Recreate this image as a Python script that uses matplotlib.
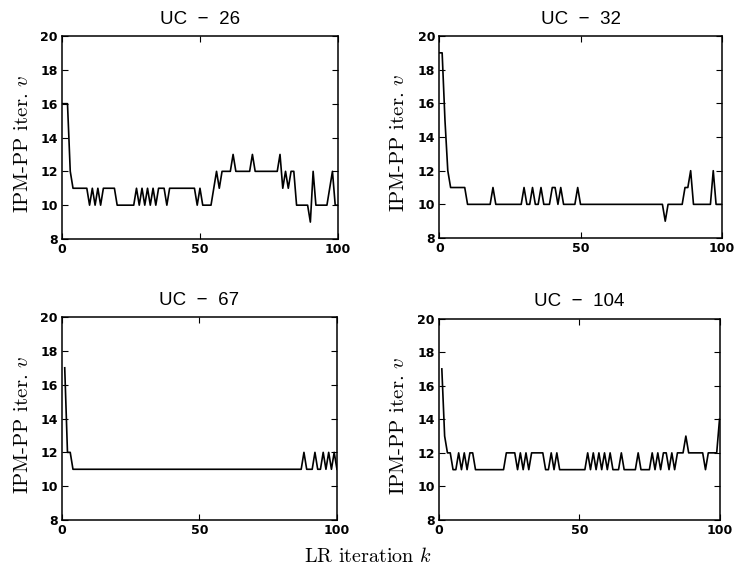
import numpy as np
import matplotlib
matplotlib.use("Agg")
import matplotlib.pyplot as plt

# IPM-PP iteration counts per LR iteration (k = 0..100), NaN = no value
k = np.arange(0, 101)

uc26 = [16, 16, 16, 12, 11, 11, 11, 11, 11, 11,
        10, 11, 10, 11, 10, 11, 11, 11, 11, 11,
        10, 10, 10, 10, 10, 10, 10, 11, 10, 11,
        10, 11, 10, 11, 10, 11, 11, 11, 10, 11,
        11, 11, 11, 11, 11, 11, 11, 11, 11, 10,
        11, 10, 10, 10, 10, 11, 12, 11, 12, 12,
        12, 12, 13, 12, 12, 12, 12, 12, 12, 13,
        12, 12, 12, 12, 12, 12, 12, 12, 12, 13,
        11, 12, 11, 12, 12, 10, 10, 10, 10, 10,
        9, 12, 10, 10, 10, 10, 10, 11, 12, 10,
        10]

uc32 = [19, 19, 15, 12, 11, 11, 11, 11, 11, 11,
        10, 10, 10, 10, 10, 10, 10, 10, 10, 11,
        10, 10, 10, 10, 10, 10, 10, 10, 10, 10,
        11, 10, 10, 11, 10, 10, 11, 10, 10, 10,
        11, 11, 10, 11, 10, 10, 10, 10, 10, 11,
        10, 10, 10, 10, 10, 10, 10, 10, 10, 10,
        10, 10, 10, 10, 10, 10, 10, 10, 10, 10,
        10, 10, 10, 10, 10, 10, 10, 10, 10, 10,
        9, 10, 10, 10, 10, 10, 10, 11, 11, 12,
        10, 10, 10, 10, 10, 10, 10, 12, 10, 10,
        10]

uc67 = [np.nan, 17, 12, 12, 11, 11, 11, 11, 11, 11,
        11, 11, 11, 11, 11, 11, 11, 11, 11, 11,
        11, 11, 11, 11, 11, 11, 11, 11, 11, 11,
        11, 11, 11, 11, 11, 11, 11, 11, 11, 11,
        11, 11, 11, 11, 11, 11, 11, 11, 11, 11,
        11, 11, 11, 11, 11, 11, 11, 11, 11, 11,
        11, 11, 11, 11, 11, 11, 11, 11, 11, 11,
        11, 11, 11, 11, 11, 11, 11, 11, 11, 11,
        11, 11, 11, 11, 11, 11, 11, 11, 12, 11,
        11, 11, 12, 11, 11, 12, 11, 12, 11, 12,
        11]

uc104 = [np.nan, 17, 13, 12, 12, 11, 11, 12, 11, 12,
         11, 12, 12, 11, 11, 11, 11, 11, 11, 11,
         11, 11, 11, 11, 12, 12, 12, 12, 11, 12,
         11, 12, 11, 12, 12, 12, 12, 12, 11, 11,
         12, 11, 12, 11, 11, 11, 11, 11, 11, 11,
         11, 11, 11, 12, 11, 12, 11, 12, 11, 12,
         11, 12, 11, 11, 11, 12, 11, 11, 11, 11,
         11, 12, 11, 11, 11, 11, 12, 11, 12, 11,
         12, 12, 11, 12, 11, 12, 12, 12, 13, 12,
         12, 12, 12, 12, 12, 11, 12, 12, 12, 12,
         14]

titles = ["UC  \u2212  26", "UC  \u2212  32", "UC  \u2212  67", "UC  \u2212  104"]
series = [uc26, uc32, uc67, uc104]

# axes boxes in figure fractions (left, bottom, width, height)
boxes = [(0.0842, 0.5865, 0.3750, 0.3512),
         (0.5969, 0.5882, 0.3837, 0.3495),
         (0.0842, 0.1003, 0.3736, 0.3512),
         (0.5965, 0.1003, 0.3811, 0.3486)]

plt.rcParams['mathtext.fontset'] = 'cm'
plt.rcParams['font.family'] = 'Liberation Sans'

fig = plt.figure(figsize=(7.36, 5.78), dpi=100)

for box, title, y in zip(boxes, titles, series):
    ax = fig.add_axes(box)
    ax.plot(k, y, color='black', lw=1.2)
    ax.set_xlim(0, 100)
    ax.set_ylim(8, 20)
    ax.set_xticks([0, 50, 100])
    ax.set_yticks(np.arange(8, 21, 2))
    ax.tick_params(direction='in', top=True, right=True, length=4, width=0.8,
                   labelsize=9, pad=3)
    for lab in ax.get_xticklabels() + ax.get_yticklabels():
        lab.set_fontweight('bold')
        lab.set_family('DejaVu Sans')
    for sp in ax.spines.values():
        sp.set_linewidth(1.1)
    ax.set_title(title, fontsize=13.5, pad=9)
    ax.set_ylabel("IPM-PP iter. $v$", fontsize=15, family='cmr10')
    ax.yaxis.set_label_coords(-0.11, 0.47)

fig.text(0.5, 0.02, "LR iteration $k$", ha='center', va='bottom',
         fontsize=14.5, family='cmr10')

fig.savefig("out.png", dpi=100)
